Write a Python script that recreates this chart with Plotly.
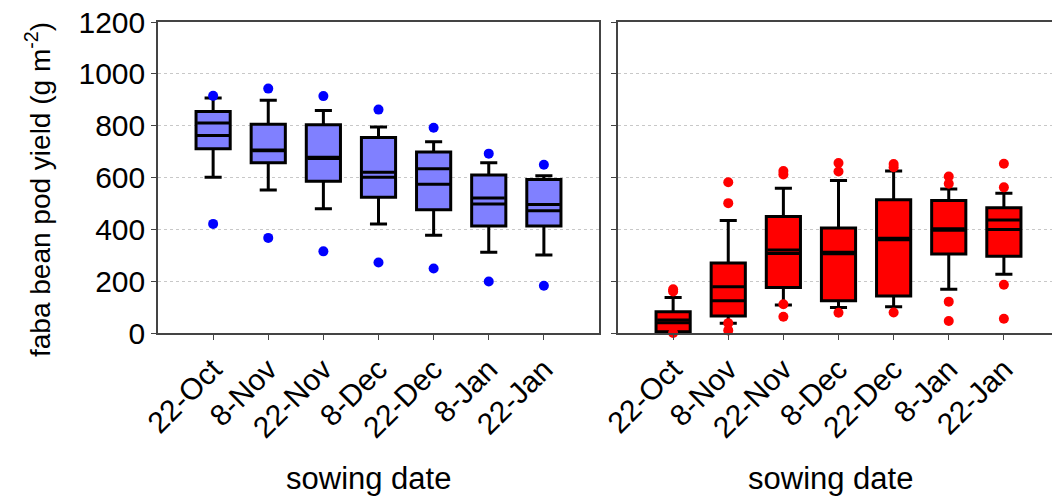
import plotly.graph_objects as go

cats = ["22-Oct", "8-Nov", "22-Nov", "8-Dec", "22-Dec", "8-Jan", "22-Jan"]
pos = list(range(len(cats)))

# left panel (blue)
blue_q1 = [711, 657, 586, 524, 476, 413, 413]
blue_median = [762, 706, 678, 601, 574, 498, 472]
blue_mean = [810, 703, 673, 620, 634, 521, 496]
blue_q3 = [855, 805, 804, 754, 698, 610, 592]
blue_lo = [601, 552, 479, 421, 377, 312, 301]
blue_hi = [907, 898, 859, 795, 738, 657, 607]
blue_out = [[915, 421], [943, 367], [914, 315], [862, 272], [792, 249], [692, 199], [649, 182]]

# right panel (red)
red_q1 = [5, 66, 176, 124, 143, 305, 296]
red_median = [40, 124, 307, 312, 360, 396, 399]
red_mean = [50, 178, 320, 306, 366, 402, 436]
red_q3 = [82, 270, 450, 405, 514, 511, 483]
red_lo = [0, 38, 108, 98, 101, 169, 227]
red_hi = [137, 434, 559, 588, 625, 556, 539]
red_out = [[169, 160, 0], [582, 501, 38, 10], [625, 612, 111, 63], [656, 623, 78],
           [652, 640, 79], [604, 576, 121, 46], [653, 562, 186, 55]]

BOXW = 0.62
FONT = "Liberation Sans, Arial, sans-serif"

fig = go.Figure()


def add_panel(q1, med, mean, q3, lo, hi, outs, fill, dot, xa, ya):
    fig.add_trace(go.Box(
        x=pos, q1=q1, median=med, q3=q3, lowerfence=lo, upperfence=hi,
        width=BOXW, whiskerwidth=0.5, fillcolor=fill,
        line=dict(color="black", width=3), boxpoints=False,
        xaxis=xa, yaxis=ya, showlegend=False, hoverinfo="skip"))
    ox, oy = [], []
    for p, vals in zip(pos, outs):
        for v in vals:
            ox.append(p)
            oy.append(v)
    fig.add_trace(go.Scatter(
        x=ox, y=oy, mode="markers", cliponaxis=False,
        marker=dict(color=dot, size=10, line=dict(width=0)),
        xaxis=xa, yaxis=ya, showlegend=False, hoverinfo="skip"))
    mx, my = [], []
    for p, m in zip(pos, mean):
        mx += [p - BOXW / 2 + 0.02, p + BOXW / 2 - 0.02, None]
        my += [m, m, None]
    fig.add_trace(go.Scatter(
        x=mx, y=my, mode="lines", line=dict(color="black", width=3),
        xaxis=xa, yaxis=ya, showlegend=False, hoverinfo="skip"))


add_panel(blue_q1, blue_median, blue_mean, blue_q3, blue_lo, blue_hi, blue_out,
          "#8080FF", "#0000FF", "x", "y")
add_panel(red_q1, red_median, red_mean, red_q3, red_lo, red_hi, red_out,
          "#FF0000", "#FF0000", "x2", "y2")

OFF = 8  # default page body margin
W, H = 1060 - OFF, 498 - OFF
# page-pixel positions of the plot area
PL, PR, PT, PB = 158, 1059, 22, 333
L, T = PL - OFF, PT - OFF
R = W - (PR - OFF)
B = H - (PB - OFF)
pw = PR - PL
ph = PB - PT

xcommon = dict(range=[-1, 7], tickmode="array", tickvals=pos, ticktext=cats,
               tickangle=-45, ticks="outside", ticklen=5, tickcolor="#444",
               showline=True, linecolor="#444", linewidth=1.5, mirror=True,
               showgrid=False, zeroline=False, automargin=False,
               tickfont=dict(family=FONT, size=30, color="black"))
ycommon = dict(range=[0, 1200], dtick=200, ticks="outside", ticklen=5, tickcolor="#444",
               showline=True, linecolor="#444", linewidth=1.5, mirror=True,
               showgrid=True, gridcolor="#c8c8c8", griddash="dot", gridwidth=1,
               zeroline=False, ticklabeloverflow="allow", automargin=False,
               tickfont=dict(family=FONT, size=30, color="black"))

fig.update_layout(
    width=W, height=H, margin=dict(l=L, r=R, t=T, b=B, pad=0, autoexpand=False),
    paper_bgcolor="white", plot_bgcolor="white",
    xaxis=dict(domain=[0, (599 - PL) / pw], anchor="y", **xcommon),
    xaxis2=dict(domain=[(618 - PL) / pw, 1], anchor="y2", **xcommon),
    yaxis=dict(domain=[0, 1], anchor="x", **ycommon),
    yaxis2=dict(domain=[0, 1], anchor="x2", showticklabels=False, **ycommon),
    font=dict(family=FONT, color="black"),
)


def px_x(x):
    return (x - PL) / pw


def px_y(y):
    return (PB - y) / ph


fig.add_annotation(text="faba bean pod yield (g m<sup>-2</sup>)", textangle=-90,
                   xref="paper", yref="paper", x=px_x(38), y=px_y(190),
                   xanchor="center", yanchor="middle", showarrow=False,
                   font=dict(family=FONT, size=28, color="black"))
for cx in (368, 830):
    fig.add_annotation(text="sowing date", xref="paper", yref="paper",
                       x=px_x(cx), y=px_y(478), xanchor="center", yanchor="middle",
                       showarrow=False, font=dict(family=FONT, size=31, color="black"))

fig.write_html("out.html")
